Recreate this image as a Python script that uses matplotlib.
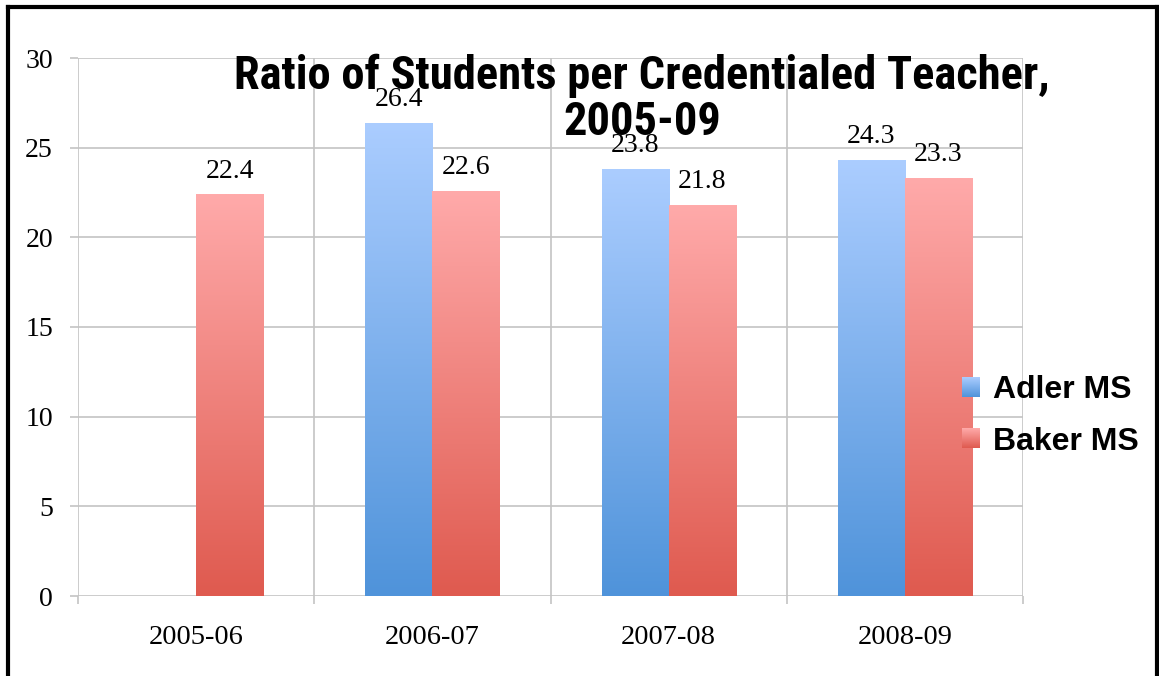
import numpy as np
import matplotlib
matplotlib.use("Agg")
import matplotlib.pyplot as plt
from matplotlib.colors import LinearSegmentedColormap
from matplotlib.lines import Line2D
from matplotlib.patches import Rectangle
from matplotlib.legend_handler import HandlerBase
from matplotlib.image import BboxImage
from matplotlib.transforms import Bbox, TransformedBbox
from matplotlib import font_manager

# Data
years = ["2005-06", "2006-07", "2007-08", "2008-09"]
adler = [np.nan, 26.4, 23.8, 24.3]
baker = [22.4, 22.6, 21.8, 23.3]
series_names = ["Adler MS", "Baker MS"]

blue_cmap = LinearSegmentedColormap.from_list("blue", ["#4f93da", "#abcdff"])
red_cmap = LinearSegmentedColormap.from_list("red", ["#df5a4f", "#ffaaaa"])

# pick a narrow bold face for the title if one is installed
title_family, title_stretch = "Liberation Sans", "normal"
for f in font_manager.fontManager.ttflist:
    if f.name in ("Liberation Sans Narrow", "Arial Narrow", "Roboto Condensed"):
        title_family, title_stretch = f.name, "normal"
        break
else:
    for f in font_manager.fontManager.ttflist:
        if f.name == "DejaVu Sans" and f.stretch == "condensed":
            title_family, title_stretch = "DejaVu Sans", "condensed"
            break
serif_font = "Liberation Serif"

W, H = 1159, 676
fig = plt.figure(figsize=(W / 100, H / 100), dpi=100)
ax = fig.add_axes([78 / W, 1 - 596 / H, 945 / W, 538 / H])

x = np.arange(len(years))
width = 0.284
grad = np.linspace(0, 1, 256).reshape(-1, 1)


def gradient_bars(xs, vals, cmap):
    bars = ax.bar(xs, vals, width, color="none", edgecolor="none", zorder=3)
    for rect, v in zip(bars, vals):
        if np.isnan(v):
            continue
        x0 = rect.get_x()
        img = ax.imshow(grad, cmap=cmap, aspect="auto", origin="lower",
                        extent=[x0, x0 + rect.get_width(), 0, v], zorder=3)
        img.set_clip_path(rect)
        ax.text(x0 + rect.get_width() / 2, v + 0.6, f"{v:.1f}", ha="center", va="bottom",
                fontsize=20, family=serif_font, zorder=4)
    return bars


gradient_bars(x - width / 2, adler, blue_cmap)
gradient_bars(x + width / 2, baker, red_cmap)

ax.set_xlim(-0.5, len(years) - 0.5)
ax.set_ylim(0, 30)
ax.set_yticks(range(0, 31, 5))
ax.set_yticklabels([str(v) for v in range(0, 31, 5)], family=serif_font, fontsize=20)

# horizontal gridlines
ax.yaxis.grid(True, color="#c4c4c4", linewidth=1.2, zorder=0)
ax.tick_params(axis="y", length=6, color="#c4c4c4", width=1.2, pad=12)

# vertical separators at category boundaries
bounds = np.arange(len(years) + 1) - 0.5
for b in bounds:
    ax.axvline(b, color="#c4c4c4", linewidth=1.2, zorder=0)
ax.set_xticks(bounds, minor=True)
ax.tick_params(axis="x", which="minor", length=6, color="#c4c4c4", width=1.2)
ax.set_xticks(x)
ax.set_xticklabels(years, family=serif_font, fontsize=20.5)
ax.tick_params(axis="x", which="major", length=0, pad=21)

for s in ax.spines.values():
    s.set_visible(False)

# title, shrunk to the reference width if the face is too wide
title = fig.text(642 / W, 1 - 99 / H, "Ratio of Students per Credentialed Teacher,\n2005-09",
                 ha="center", va="center", multialignment="center", fontsize=34,
                 fontweight="bold", family=title_family, fontstretch=title_stretch,
                 linespacing=1.05, zorder=10)
fig.canvas.draw()
tw = title.get_window_extent(fig.canvas.get_renderer()).width
if tw > 815:
    title.set_fontsize(34 * 815 / tw)


# legend keys with the same vertical gradient as the bars
class GradientHandler(HandlerBase):
    def __init__(self, cmap):
        super().__init__()
        self.cmap = cmap

    def create_artists(self, legend, orig_handle, xdescent, ydescent, width, height, fontsize, trans):
        bb = TransformedBbox(Bbox.from_bounds(-xdescent, -ydescent, width, height), trans)
        img = BboxImage(bb, cmap=self.cmap, origin="lower", interpolation="bilinear")
        img.set_data(grad)
        return [img]


handles = [Rectangle((0, 0), 1, 1), Rectangle((0, 0), 1, 1)]
leg = fig.legend(handles, series_names, loc="center left", bbox_to_anchor=(962 / W, 1 - 416 / H),
                 frameon=False, handlelength=0.55, handleheight=0.55, handletextpad=0.42,
                 labelspacing=0.66, borderpad=0, borderaxespad=0,
                 handler_map={handles[0]: GradientHandler(blue_cmap), handles[1]: GradientHandler(red_cmap)},
                 prop={"family": "Liberation Sans", "weight": "bold", "size": 23})

# outer frame
fig.add_artist(Line2D([8 / W, 8 / W], [0, 1 - 7 / H], color="black", linewidth=3, transform=fig.transFigure))
fig.add_artist(Line2D([8 / W, 1157 / W], [1 - 7 / H, 1 - 7 / H], color="black", linewidth=3, transform=fig.transFigure))
fig.add_artist(Line2D([1157 / W, 1157 / W], [0, 1 - 7 / H], color="black", linewidth=3, transform=fig.transFigure))

fig.savefig("out.png", dpi=100)
